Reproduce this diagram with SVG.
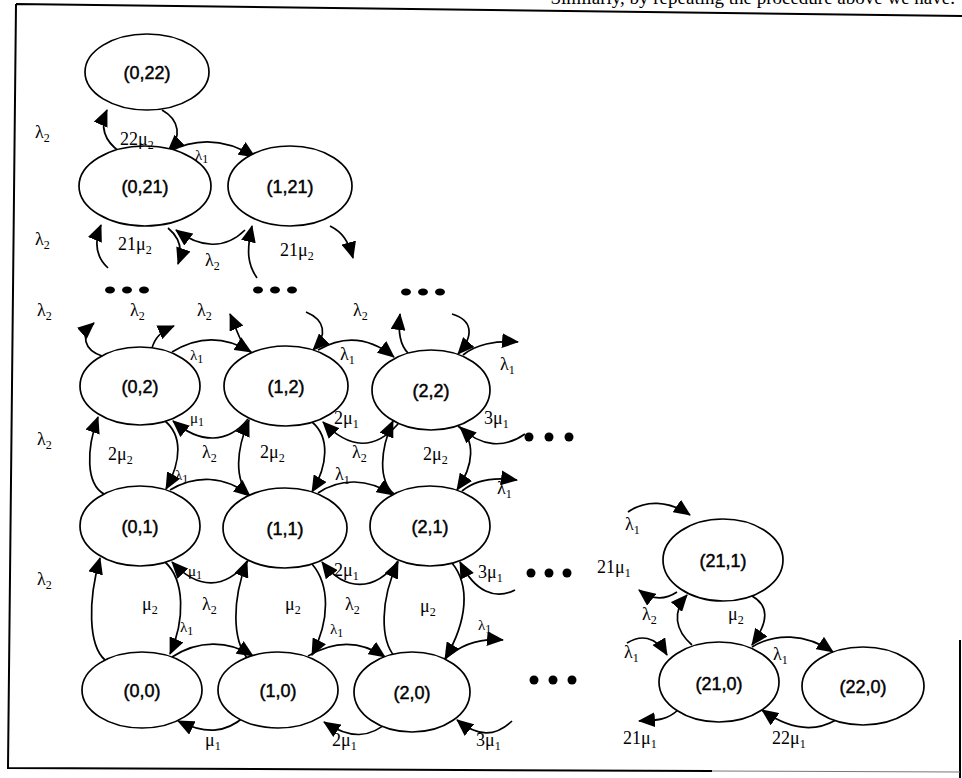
<svg xmlns="http://www.w3.org/2000/svg" width="962" height="778" viewBox="0 0 962 778">
<defs>
<marker id="ah" markerUnits="userSpaceOnUse" markerWidth="17" markerHeight="15" refX="16" refY="7.5" orient="auto">
<path d="M0,0 L17,7.5 L0,15 z" fill="#000"/>
</marker>
<style>
.nd ellipse{fill:#fff;stroke:#000;stroke-width:1.7}
.nd text{font-family:"Liberation Sans",Arial,sans-serif;font-size:18px;text-anchor:middle;fill:#000;stroke:#000;stroke-width:0.45}
#edges path{fill:none;stroke:#000;stroke-width:1.7;marker-end:url(#ah)}
.g{font-family:"Liberation Serif","Times New Roman",serif;font-size:18px;fill:#000}
.g tspan{font-size:12px}
.sm{font-size:15px}
.dot{fill:#000}
.frame{fill:none;stroke:#000;stroke-width:2}
</style>
</defs>
<rect width="962" height="778" fill="#fff"/>
<text x="955" y="4" text-anchor="end" font-family="Liberation Serif, serif" font-size="19">Similarly, by repeating the procedure above we have.</text>
<path class="frame" d="M16,4 L962,16 M16,4 L8,768 L712,771 M960,640 L960,778"/>
<path d="M712,771 L960,772" fill="none" stroke="#777" stroke-width="1"/>

<g id="edges">
<!-- top group -->
<path d="M120,152 C103,140 100,126 107,110"/>
<path d="M162,110 C180,120 182,138 168,151"/>
<path d="M168,152 C195,138 225,138 255,157"/>
<path d="M108,268 C95,256 94,242 101,225"/>
<path d="M168,228 C180,238 183,250 178,264"/>
<path d="M245,230 C225,250 200,248 176,230"/>
<path d="M257,278 C248,265 246,252 252,226"/>
<path d="M330,226 C342,232 348,240 353,258"/>
<!-- row 2 top -->
<path d="M102,356 C84,350 80,335 94,323"/>
<path d="M152,348 C155,338 160,332 174,326"/>
<path d="M172,352 C198,336 225,336 251,352"/>
<path d="M252,353 C240,345 238,332 230,314"/>
<path d="M306,312 C325,320 328,335 313,350"/>
<path d="M318,350 C342,336 368,336 394,357"/>
<path d="M408,353 C400,345 398,330 400,314"/>
<path d="M452,314 C472,320 475,335 458,354"/>
<path d="M463,355 C475,345 495,340 518,342"/>
<!-- gap 2-1 -->
<path d="M104,494 C86,484 86,450 98,417"/>
<path d="M165,421 C182,435 182,460 166,489"/>
<path d="M250,496 C234,480 236,450 249,420"/>
<path d="M312,422 C330,437 328,465 312,492"/>
<path d="M394,494 C378,480 380,450 393,421"/>
<path d="M458,426 C476,440 474,465 457,490"/>
<path d="M248,419 C228,444 200,444 173,421"/>
<path d="M398,424 C375,450 350,450 323,422"/>
<path d="M525,434 C505,448 482,448 460,427"/>
<path d="M170,490 C195,475 225,475 250,496"/>
<path d="M318,493 C340,478 368,478 393,495"/>
<path d="M462,491 C475,480 495,477 517,480"/>
<!-- gap 1-0 -->
<path d="M105,660 C88,645 88,600 100,558"/>
<path d="M165,562 C185,580 185,620 170,654"/>
<path d="M248,659 C232,640 232,600 247,561"/>
<path d="M312,564 C330,585 330,620 312,655"/>
<path d="M395,657 C380,640 380,600 398,562"/>
<path d="M452,563 C470,585 468,620 445,659"/>
<path d="M248,561 C225,590 198,590 172,562"/>
<path d="M398,561 C375,592 345,592 322,562"/>
<path d="M515,590 C495,600 475,592 460,562"/>
<path d="M172,657 C198,640 228,640 253,656"/>
<path d="M308,656 C335,640 360,640 385,657"/>
<path d="M445,659 C460,645 480,638 503,640"/>
<!-- bottom row -->
<path d="M245,716 C225,734 205,734 178,721"/>
<path d="M390,720 C370,739 350,739 324,722"/>
<path d="M512,721 C495,737 478,737 457,720"/>
<!-- right cluster -->
<path d="M628,512 C645,500 668,500 690,515"/>
<path d="M677,592 C665,600 652,600 639,590"/>
<path d="M692,645 C675,630 672,612 687,595"/>
<path d="M752,596 C768,605 770,620 752,645"/>
<path d="M627,643 C640,635 655,635 667,655"/>
<path d="M752,647 C775,633 805,633 833,652"/>
<path d="M836,720 C815,732 790,730 762,710"/>
<path d="M678,710 C665,722 652,720 639,721"/>
</g>

<g id="n022" class="nd"><ellipse cx="147" cy="72" rx="62" ry="38"/><text x="147" y="79">(0,22)</text></g>
<g id="n021" class="nd"><ellipse cx="145" cy="186" rx="66" ry="40"/><text x="145" y="193">(0,21)</text></g>
<g id="n121" class="nd"><ellipse cx="290" cy="186" rx="62" ry="40"/><text x="290" y="193">(1,21)</text></g>
<g id="n02" class="nd"><ellipse cx="140" cy="386" rx="60" ry="39"/><text x="140" y="393">(0,2)</text></g>
<g id="n12" class="nd"><ellipse cx="286" cy="386" rx="62" ry="40"/><text x="286" y="393">(1,2)</text></g>
<g id="n22" class="nd"><ellipse cx="431" cy="390" rx="59" ry="40"/><text x="431" y="397">(2,2)</text></g>
<g id="n01" class="nd"><ellipse cx="140" cy="526" rx="60" ry="40"/><text x="140" y="533">(0,1)</text></g>
<g id="n11" class="nd"><ellipse cx="285" cy="528" rx="62" ry="40"/><text x="285" y="535">(1,1)</text></g>
<g id="n21" class="nd"><ellipse cx="430" cy="526" rx="60" ry="40"/><text x="430" y="533">(2,1)</text></g>
<g id="n00" class="nd"><ellipse cx="142" cy="690" rx="60" ry="38"/><text x="142" y="697">(0,0)</text></g>
<g id="n10" class="nd"><ellipse cx="278" cy="690" rx="60" ry="38"/><text x="278" y="697">(1,0)</text></g>
<g id="n20" class="nd"><ellipse cx="412" cy="692" rx="58" ry="40"/><text x="412" y="699">(2,0)</text></g>
<g id="n211" class="nd"><ellipse cx="723" cy="560" rx="60" ry="41"/><text x="723" y="567">(21,1)</text></g>
<g id="n210" class="nd"><ellipse cx="719" cy="682" rx="60" ry="40"/><text x="719" y="690">(21,0)</text></g>
<g id="n220" class="nd"><ellipse cx="863" cy="686" rx="61" ry="39"/><text x="863" y="693">(22,0)</text></g>

<g id="labels" class="g">
<text x="35" y="138">λ<tspan dy="4">2</tspan></text>
<text x="120" y="145">22μ<tspan dy="4">2</tspan></text>
<text x="195" y="160" class="sm">λ<tspan dy="3">1</tspan></text>
<text x="35" y="245">λ<tspan dy="4">2</tspan></text>
<text x="118" y="250">21μ<tspan dy="4">2</tspan></text>
<text x="205" y="266">λ<tspan dy="4">2</tspan></text>
<text x="280" y="256">21μ<tspan dy="4">2</tspan></text>

<text x="37" y="316">λ<tspan dy="4">2</tspan></text>
<text x="130" y="316">λ<tspan dy="4">2</tspan></text>
<text x="197" y="316">λ<tspan dy="4">2</tspan></text>
<text x="353" y="316">λ<tspan dy="4">2</tspan></text>
<text x="190" y="360" class="sm">λ<tspan dy="3">1</tspan></text>
<text x="340" y="360">λ<tspan dy="4">1</tspan></text>
<text x="500" y="370">λ<tspan dy="4">1</tspan></text>

<text x="190" y="423" class="sm">μ<tspan dy="3">1</tspan></text>
<text x="334" y="424">2μ<tspan dy="4">1</tspan></text>
<text x="484" y="424">3μ<tspan dy="4">1</tspan></text>
<text x="37" y="445">λ<tspan dy="4">2</tspan></text>
<text x="108" y="460">2μ<tspan dy="4">2</tspan></text>
<text x="202" y="458">λ<tspan dy="4">2</tspan></text>
<text x="260" y="458">2μ<tspan dy="4">2</tspan></text>
<text x="352" y="458">λ<tspan dy="4">2</tspan></text>
<text x="423" y="460">2μ<tspan dy="4">2</tspan></text>
<text x="175" y="480" class="sm">λ<tspan dy="3">1</tspan></text>
<text x="335" y="480">λ<tspan dy="4">1</tspan></text>
<text x="497" y="494">λ<tspan dy="4">1</tspan></text>

<text x="188" y="576" class="sm">μ<tspan dy="3">1</tspan></text>
<text x="334" y="576">2μ<tspan dy="4">1</tspan></text>
<text x="478" y="578">3μ<tspan dy="4">1</tspan></text>
<text x="37" y="585">λ<tspan dy="4">2</tspan></text>
<text x="142" y="610">μ<tspan dy="4">2</tspan></text>
<text x="202" y="610">λ<tspan dy="4">2</tspan></text>
<text x="285" y="610">μ<tspan dy="4">2</tspan></text>
<text x="345" y="610">λ<tspan dy="4">2</tspan></text>
<text x="420" y="612">μ<tspan dy="4">2</tspan></text>
<text x="180" y="632" class="sm">λ<tspan dy="3">1</tspan></text>
<text x="330" y="634" class="sm">λ<tspan dy="3">1</tspan></text>
<text x="478" y="630" class="sm">λ<tspan dy="3">1</tspan></text>

<text x="205" y="746">μ<tspan dy="4">1</tspan></text>
<text x="332" y="746">2μ<tspan dy="4">1</tspan></text>
<text x="476" y="746">3μ<tspan dy="4">1</tspan></text>

<text x="597" y="573">21μ<tspan dy="4">1</tspan></text>
<text x="625" y="530">λ<tspan dy="4">1</tspan></text>
<text x="642" y="620">λ<tspan dy="4">2</tspan></text>
<text x="728" y="620">μ<tspan dy="4">2</tspan></text>
<text x="624" y="658">λ<tspan dy="4">1</tspan></text>
<text x="773" y="660">λ<tspan dy="4">1</tspan></text>
<text x="623" y="744">21μ<tspan dy="4">1</tspan></text>
<text x="772" y="744">22μ<tspan dy="4">1</tspan></text>
</g>

<g id="dots" class="dot">
<ellipse cx="110" cy="290" rx="5" ry="3.5"/><ellipse cx="127" cy="290" rx="5" ry="3.5"/><ellipse cx="144" cy="290" rx="5" ry="3.5"/>
<ellipse cx="258" cy="290" rx="5" ry="3.5"/><ellipse cx="275" cy="290" rx="5" ry="3.5"/><ellipse cx="292" cy="290" rx="5" ry="3.5"/>
<ellipse cx="406" cy="292" rx="5" ry="3.5"/><ellipse cx="423" cy="292" rx="5" ry="3.5"/><ellipse cx="440" cy="292" rx="5" ry="3.5"/>
<circle cx="529" cy="437" r="4.5"/><circle cx="549" cy="437" r="4.5"/><circle cx="569" cy="437" r="4.5"/>
<circle cx="531" cy="573" r="4.5"/><circle cx="549" cy="573" r="4.5"/><circle cx="567" cy="573" r="4.5"/>
<circle cx="534" cy="680" r="4.5"/><circle cx="553" cy="680" r="4.5"/><circle cx="572" cy="680" r="4.5"/>
</g>
</svg>
